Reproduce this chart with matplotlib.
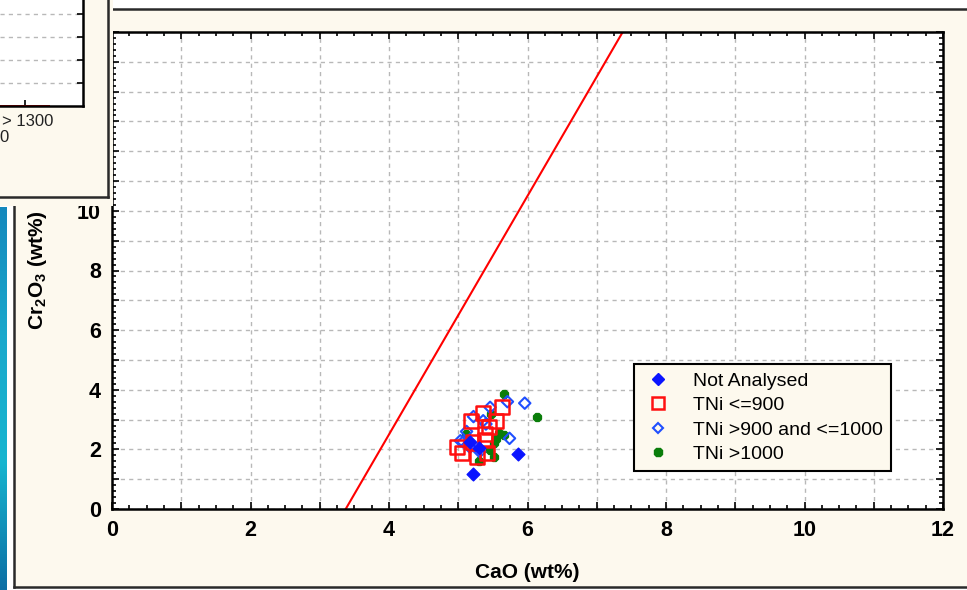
import numpy as np
import matplotlib
matplotlib.use("Agg")
import matplotlib.pyplot as plt
import matplotlib.patches as patches
from matplotlib.lines import Line2D
from matplotlib.ticker import MultipleLocator, FuncFormatter

plt.rcParams['font.family'] = ['Liberation Sans', 'DejaVu Sans']
plt.rcParams['mathtext.fontset'] = 'custom'
plt.rcParams['mathtext.rm'] = 'Liberation Sans'
plt.rcParams['mathtext.bf'] = 'Liberation Sans:bold'

# scatter data (CaO wt%, Cr2O3 wt%)
na_x = [5.21, 5.87, 5.17, 5.30]
na_y = [1.16, 1.85, 2.25, 2.05]

t900_x = [5.63, 5.36, 5.19, 5.55, 5.45, 5.39, 5.39, 4.98, 5.05, 5.27, 5.42, 5.21]
t900_y = [3.43, 3.23, 2.96, 2.96, 2.76, 2.52, 2.32, 2.09, 1.89, 1.73, 1.89, 2.26]

t1000_x = [5.96, 5.71, 5.46, 5.22, 5.36, 5.12, 5.03, 5.07, 5.74, 5.31, 5.17, 5.40]
t1000_y = [3.55, 3.60, 3.41, 3.10, 2.96, 2.60, 2.29, 2.25, 2.37, 1.92, 2.07, 2.85]

thi_x = [5.66, 6.14, 5.48, 5.11, 5.59, 5.66, 5.55, 5.52, 5.51, 5.30, 5.46]
thi_y = [3.85, 3.10, 3.19, 2.52, 2.56, 2.48, 2.35, 2.22, 1.73, 1.62, 1.98]

# discriminant line
line_x = [3.375, 7.375]
line_y = [0.0, 16.0]

# partially hidden inset histogram
inset_cats = [0]
inset_vals = [0.06]

W, H = 967, 590
BEIGE = '#fdf9ee'

fig = plt.figure(figsize=(9.67, 5.9), dpi=100, facecolor='white')


def fx(px):
    return px / W


def fy(py):
    return 1 - py / H


# background panel
fig.patches.append(patches.Rectangle((fx(14), fy(587)), fx(967) - fx(14), fy(9) - fy(587),
                                     transform=fig.transFigure, facecolor=BEIGE,
                                     edgecolor='none', zorder=-2))
for xs, ys in [([113, 967], [9, 9]), ([14, 14], [9, 587]), ([14, 967], [587, 587])]:
    fig.lines.append(Line2D([fx(v) for v in xs], [fy(v) for v in ys], transform=fig.transFigure,
                            color='#2a2a2a', lw=1.8, zorder=-1))

# blue strip on the left
strip = fig.add_axes([0, 0, fx(7), fy(207)])
grad = np.linspace(0, 1, 256).reshape(-1, 1)
cmap = matplotlib.colors.LinearSegmentedColormap.from_list(
    'strip', ['#0c6ea4', '#17b5d0', '#1aa8cc', '#1488bd'])
strip.imshow(grad, aspect='auto', cmap=cmap, origin='lower')
strip.set_axis_off()

# main plot
ax = fig.add_axes([fx(112), fy(509), fx(943) - fx(112), fy(32) - fy(509)])
ax.set_facecolor('white')
ax.set_xlim(0, 12)
ax.set_ylim(0, 16)

ax.plot(line_x, line_y, color='red', lw=1.5, zorder=2)

ax.scatter(thi_x, thi_y, marker='8', s=38, color='#0a7d0a', zorder=3)
ax.scatter(t1000_x, t1000_y, marker='D', s=34, facecolor='none', edgecolor='#1f4fff',
           linewidth=1.5, zorder=4)
ax.scatter(t900_x, t900_y, marker='s', s=100, facecolor='none', edgecolor='#ff1010',
           linewidth=1.8, zorder=5)
ax.scatter(na_x, na_y, marker='D', s=42, color='#0a14ff', zorder=6)

even_fmt = FuncFormatter(lambda v, p: '%d' % v if int(round(v)) % 2 == 0 else '')
ax.xaxis.set_major_locator(MultipleLocator(1))
ax.xaxis.set_minor_locator(MultipleLocator(0.25))
ax.yaxis.set_major_locator(MultipleLocator(1))
ax.yaxis.set_minor_locator(MultipleLocator(0.2))
ax.xaxis.set_major_formatter(even_fmt)
ax.yaxis.set_major_formatter(even_fmt)
ax.tick_params(which='both', direction='in', top=True, right=True, width=1.2, color='black')
ax.tick_params(which='major', length=5, labelsize=15.5, pad=8)
ax.tick_params(which='minor', length=3)
for lab in ax.get_xticklabels() + ax.get_yticklabels():
    lab.set_fontweight('bold')
for sp in ax.spines.values():
    sp.set_linewidth(1.8)
    sp.set_color('black')
ax.grid(True, which='major', color='#b8b8b8', linestyle=(0, (3, 3)), lw=1)
ax.set_axisbelow(True)

ax.set_xlabel('CaO (wt%)', fontsize=15, fontweight='bold', labelpad=16)
ax.set_ylabel('Cr$_\\mathbf{2}$O$_\\mathbf{3}$ (wt%)', fontsize=15, fontweight='bold', labelpad=20)

handles = [
    Line2D([], [], marker='D', ls='none', color='#0a14ff', markersize=6),
    Line2D([], [], marker='s', ls='none', markerfacecolor='none', markeredgecolor='#ff1010',
           markeredgewidth=1.8, markersize=9),
    Line2D([], [], marker='D', ls='none', markerfacecolor='none', markeredgecolor='#1f4fff',
           markeredgewidth=1.5, markersize=5.5),
    Line2D([], [], marker='8', ls='none', color='#0a7d0a', markersize=6),
]
labels = ['Not Analysed', 'TNi <=900', 'TNi >900 and <=1000', 'TNi >1000']
leg = ax.legend(handles, labels, loc='upper left', bbox_to_anchor=(fx(634), fy(364)),
                bbox_transform=fig.transFigure, borderaxespad=0, fancybox=False,
                framealpha=1, facecolor=BEIGE, edgecolor='black', fontsize=14,
                handletextpad=1.0, labelspacing=0.35, borderpad=0.42, handlelength=1.6)
leg.get_frame().set_linewidth(1.5)
leg.set_zorder(10)

# inset panel covering the top-left corner
bg = fig.add_axes([0, fy(206), fx(113), fy(0) - fy(206)], zorder=5)
bg.set_facecolor(BEIGE)
bg.set_xlim(0, 113)
bg.set_ylim(206, 0)
bg.set_xticks([])
bg.set_yticks([])
for sp in bg.spines.values():
    sp.set_visible(False)
bg.plot([108, 108], [0, 197], color='#2a2a2a', lw=1.8)
bg.plot([0, 108], [197, 197], color='#2a2a2a', lw=1.8)
bg.text(2, 122, '> 1300', fontsize=12, va='center', ha='left', color='#222222')
bg.text(-1, 137, '0', fontsize=12, va='center', ha='left', color='#222222')

ins = fig.add_axes([0, fy(106), fx(83), fy(0) - fy(106)], zorder=6)
ins.set_facecolor('white')
ins.bar(inset_cats, inset_vals, width=1.0, color='red')
ins.set_xlim(-0.5, 1.16)
ins.set_ylim(0, 4.6)
ins.set_yticks([1, 2, 3, 4])
ins.set_xticks(inset_cats)
ins.set_xticklabels([])
ins.set_yticklabels([])
ins.tick_params(direction='in', left=False, right=True, length=4, width=1.2)
ins.grid(True, axis='y', color='#b8b8b8', linestyle=(0, (3, 3)), lw=1)
ins.set_axisbelow(True)
ins.spines['top'].set_visible(False)
ins.spines['left'].set_visible(False)
ins.spines['right'].set_linewidth(1.8)
ins.spines['bottom'].set_linewidth(1.8)

fig.savefig('out.png', dpi=100, facecolor='white')
